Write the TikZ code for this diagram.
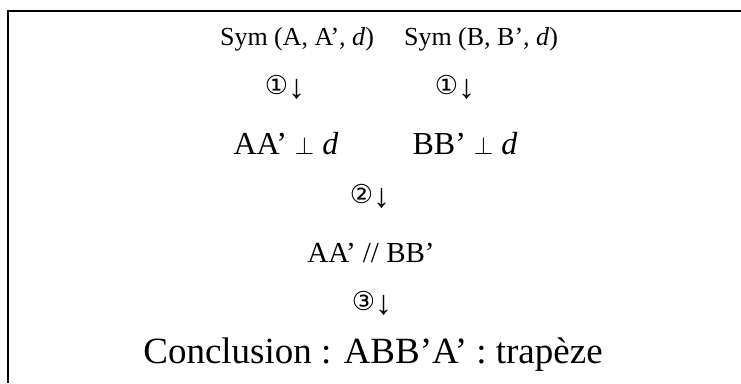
\documentclass[tikz,border=0pt]{standalone}
\usepackage{fontspec}
\setmainfont{Liberation Serif}
\newfontfamily\symfont{DejaVu Sans}
\usetikzlibrary{positioning}

\newcommand{\stepno}[1]{{\symfont #1}\raisebox{-0.15em}{\fontsize{34}{38}\selectfont ↓}}

\begin{document}
\begin{tikzpicture}[
    x=1pt, y=-1pt,
    stmt/.style={anchor=base, inner sep=0pt},
    reason/.style={inner sep=0pt, font=\fontsize{26}{30}\selectfont},
]
\useasboundingbox (0,0) rectangle (741,383);

% Frame
\draw[line width=1.3pt] (8,383) -- (8,11) -- (741,11);

% Symmetries
\node[stmt, font=\fontsize{26}{31}\selectfont] (symA) at (297,45) {Sym (A, A’, \textit{d})};
\node[stmt, font=\fontsize{26}{31}\selectfont] (symB) at (481,45) {Sym (B, B’, \textit{d})};
\node[reason] (rA) at (285,87) {\stepno{①}};
\node[reason] (rB) at (455,87) {\stepno{①}};

% Perpendiculars
\node[stmt, font=\fontsize{32}{38}\selectfont] (perpA) at (286,154) {AA’ $\perp$ \textit{d}};
\node[stmt, font=\fontsize{32}{38}\selectfont] (perpB) at (465,154) {BB’ $\perp$ \textit{d}};
\node[reason] (rpar) at (370,196) {\stepno{②}};

% Parallel and conclusion
\node[stmt, font=\fontsize{29}{35}\selectfont] (para) at (371,262) {AA’ // BB’};
\node[reason] (rconc) at (372,303) {\stepno{③}};
\node[stmt, font=\fontsize{37}{44}\selectfont] (concl) at (373,363) {Conclusion : ABB’A’ : trapèze};

\end{tikzpicture}
\end{document}
